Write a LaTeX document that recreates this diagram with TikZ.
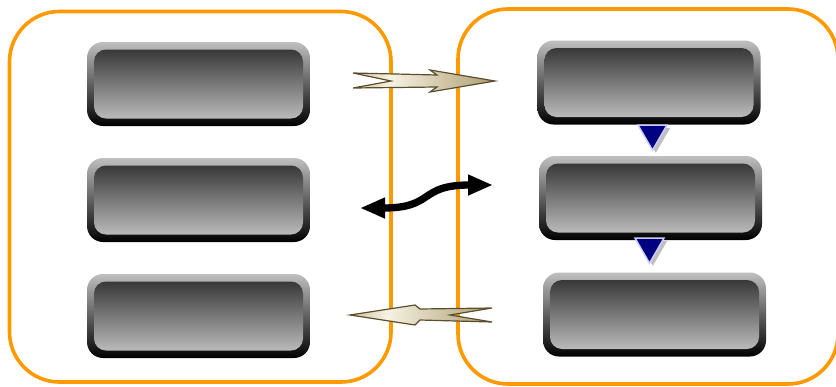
\documentclass[tikz,border=0pt]{standalone}
\usepackage{xcolor}
\usepackage{tikz}
\usetikzlibrary{shapes.geometric, arrows.meta, shadows, calc}
\definecolor{frameorange}{RGB}{255,153,0}
\definecolor{trinavy}{RGB}{0,0,128}
\definecolor{trililac}{RGB}{204,204,255}
\definecolor{sandlight}{RGB}{206,192,150}
\definecolor{sandcream}{RGB}{246,242,226}
\definecolor{sanddark}{RGB}{172,156,112}
\definecolor{dartline}{RGB}{90,78,46}
\pgfdeclarehorizontalshading{dartshade}{100bp}{color(0bp)=(sandlight); color(25bp)=(sandlight); color(38bp)=(sandcream); color(75bp)=(sanddark); color(100bp)=(sanddark)}

\begin{document}
\begin{tikzpicture}[x=0.75pt, y=-0.75pt,
    frame/.style={rectangle, draw=frameorange, line width=2.7pt, rounded corners=37.5pt},
    boxout/.style={rectangle, rounded corners=12pt, inner sep=0pt, minimum width=167.25pt, minimum height=63pt, top color=black!25, bottom color=black},
    boxin/.style={rectangle, rounded corners=9pt, inner sep=0pt, minimum width=156.75pt, minimum height=51.75pt, top color=black!78, bottom color=black!27},
    downtri/.style={regular polygon, regular polygon sides=3, shape border rotate=180, inner sep=0pt, minimum size=25pt, fill=trinavy, draw=trililac, line width=1.1pt, drop shadow={shadow xshift=2.5pt, shadow yshift=-2pt, fill=black!25, opacity=1}},
    dart/.style={draw=dartline, line width=0.9pt, line join=miter, shade, shading=dartshade},
    curvy/.style={line width=5.5pt, {Triangle[length=18.75pt, width=14.5pt]}-{Triangle[length=18.75pt, width=14.5pt]}}]
    \useasboundingbox (0,0) rectangle (836,386);

    % Riquadri esterni
    \node[frame, minimum width=286.1pt, minimum height=277.9pt] (sx) at (200.25,196.75) {};
    \node[frame, minimum width=285pt, minimum height=281.25pt] (dx) at (648,196.5) {};

    % Pulsanti a sinistra
    \node[boxout] (l1) at (198.5,84) {};
    \node[boxin] (l1i) at (l1) {};
    \node[boxout] (l2) at (198.5,200) {};
    \node[boxin] (l2i) at (l2) {};
    \node[boxout] (l3) at (198.5,316) {};
    \node[boxin] (l3i) at (l3) {};

    % Pulsanti a destra
    \node[boxout] (r1) at (649,82.5) {};
    \node[boxin] (r1i) at (r1) {};
    \node[boxout] (r2) at (650.5,198) {};
    \node[boxin] (r2i) at (r2) {};
    \node[boxout] (r3) at (654.5,314.5) {};
    \node[boxin] (r3i) at (r3) {};

    % Triangoli tra i pulsanti
    \node[downtri] (t1) at (652.5,133.5) {};
    \node[downtri] (t2) at (649.5,246.5) {};

    % Frecce tra i riquadri
    \coordinate (a1) at (495,81);
    \draw[dart] (a1) -- (430,70) -- (437,75) -- (353,73) -- (391,81) -- (353,88) -- (437,87) -- (430,92) -- cycle;

    \coordinate (a3) at (350,315);
    \draw[dart] (a3) -- (415,305) -- (420,309) -- (492,308) -- (450,315) -- (492,322) -- (420,320) -- (415,325) -- cycle;

    \coordinate (m1) at (360,208);
    \coordinate (m2) at (493,185);
    \draw[curvy] (m1) .. controls +(75,0) and +(-75,0) .. (m2);
\end{tikzpicture}
\end{document}
